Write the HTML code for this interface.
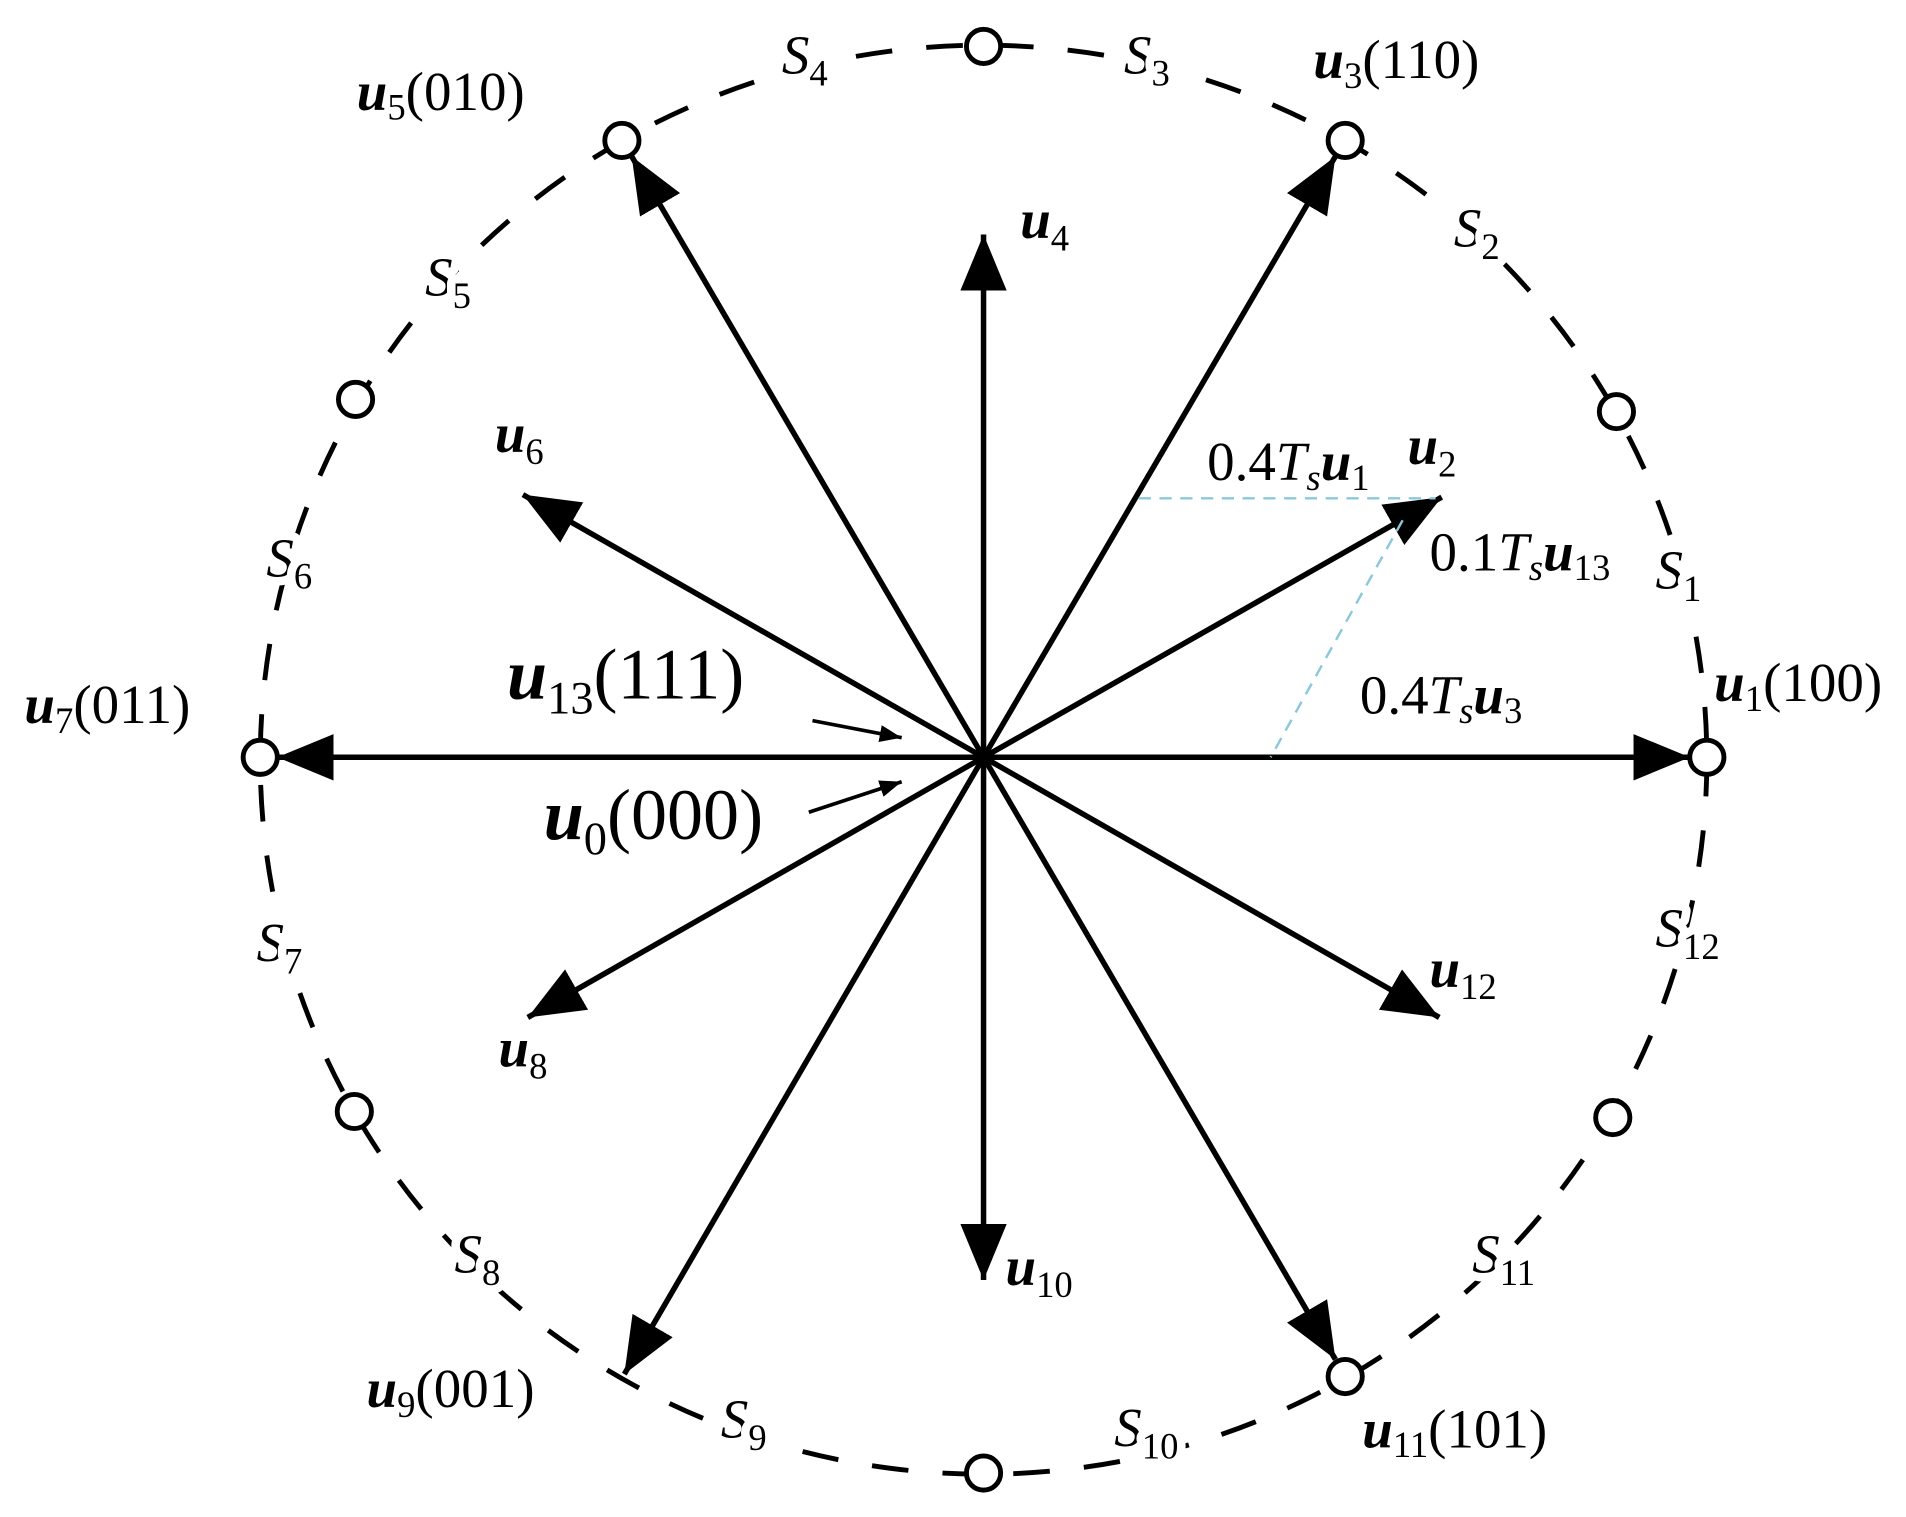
<!DOCTYPE html>
<html><head><meta charset="utf-8"><style>
html,body{margin:0;padding:0;background:#fff}
svg{display:block}
text{font-family:"Liberation Serif",serif;fill:#000}
.b{font-weight:bold;font-style:italic}
.i{font-style:italic}
.w{paint-order:stroke;stroke:#fff;stroke-width:14px;stroke-linejoin:round}
</style></head><body>
<svg width="1906" height="1517" viewBox="0 0 1560 1242" preserveAspectRatio="none" xmlns="http://www.w3.org/2000/svg">
<defs>
<marker id="a" markerUnits="userSpaceOnUse" markerWidth="48" markerHeight="40" refX="46" refY="19" orient="auto">
<path d="M0,0 L46,19 L0,38 z" fill="#000"/>
</marker>
<marker id="s" markerUnits="userSpaceOnUse" markerWidth="20" markerHeight="16" refX="18" refY="7" orient="auto">
<path d="M0,0 L18,7 L0,14 z" fill="#000"/>
</marker>
</defs>
<ellipse cx="805" cy="622" rx="592" ry="585" fill="none" stroke="#000" stroke-width="4" stroke-dasharray="30 28"/>
<g stroke="#000" stroke-width="4.5" marker-end="url(#a)">
<line x1="805" y1="620" x2="1383" y2="620"/>
<line x1="805" y1="620" x2="227" y2="620"/>
<line x1="805" y1="620" x2="1093" y2="128"/>
<line x1="805" y1="620" x2="517" y2="128"/>
<line x1="805" y1="620" x2="511" y2="1125"/>
<line x1="805" y1="620" x2="1093" y2="1113"/>
<line x1="805" y1="620" x2="805" y2="192"/>
<line x1="805" y1="620" x2="805" y2="1048"/>
<line x1="805" y1="620" x2="1180" y2="407"/>
<line x1="805" y1="620" x2="428" y2="405"/>
<line x1="805" y1="620" x2="432" y2="833"/>
<line x1="805" y1="620" x2="1178" y2="833"/>
</g>
<g stroke="#000" stroke-width="3" marker-end="url(#s)">
<line x1="665" y1="590" x2="738" y2="604"/>
<line x1="662" y1="665" x2="738" y2="640"/>
</g>
<g stroke="#8cc8dc" stroke-width="2" stroke-dasharray="10 7" fill="none">
<line x1="932" y1="408" x2="1175" y2="408"/>
<line x1="1148" y1="426" x2="1040" y2="620"/>
</g>
<g fill="#fff" stroke="#000" stroke-width="4">
<circle cx="1397" cy="620" r="14"/>
<circle cx="213" cy="620" r="14"/>
<circle cx="1101" cy="115" r="14"/>
<circle cx="509" cy="115" r="14"/>
<circle cx="805" cy="38" r="14"/>
<circle cx="805" cy="1206" r="14"/>
<circle cx="291" cy="327" r="14"/>
<circle cx="1323" cy="337" r="14"/>
<circle cx="290" cy="910" r="14"/>
<circle cx="1320" cy="915" r="14"/>
<circle cx="1101" cy="1127" r="14"/>
</g>
<g font-size="45">
<text x="292" y="90"><tspan class="b">u</tspan><tspan font-size="30" dy="8">5</tspan><tspan dy="-8">(010)</tspan></text>
<text x="1075" y="64"><tspan class="b">u</tspan><tspan font-size="30" dy="8">3</tspan><tspan dy="-8">(110)</tspan></text>
<text x="20" y="592"><tspan class="b">u</tspan><tspan font-size="30" dy="8">7</tspan><tspan dy="-8">(011)</tspan></text>
<text x="1403" y="574"><tspan class="b">u</tspan><tspan font-size="30" dy="8">1</tspan><tspan dy="-8">(100)</tspan></text>
<text x="300" y="1152"><tspan class="b">u</tspan><tspan font-size="30" dy="8">9</tspan><tspan dy="-8">(001)</tspan></text>
<text x="1115" y="1185"><tspan class="b">u</tspan><tspan font-size="30" dy="8">11</tspan><tspan dy="-8">(101)</tspan></text>
<text x="835" y="195"><tspan class="b">u</tspan><tspan font-size="30" dy="10">4</tspan></text>
<text x="405" y="370"><tspan class="b">u</tspan><tspan font-size="30" dy="10">6</tspan></text>
<text x="1152" y="380"><tspan class="b">u</tspan><tspan font-size="30" dy="10">2</tspan></text>
<text x="408" y="873"><tspan class="b">u</tspan><tspan font-size="30" dy="10">8</tspan></text>
<text x="1170" y="808"><tspan class="b">u</tspan><tspan font-size="30" dy="10">12</tspan></text>
<text x="823" y="1052"><tspan class="b">u</tspan><tspan font-size="30" dy="10">10</tspan></text>
<text x="988" y="393">0.4<tspan class="i">T</tspan><tspan class="i" font-size="30" dy="8">s</tspan><tspan class="b" dy="-8">u</tspan><tspan font-size="30" dy="8">1</tspan></text>
<text x="1170" y="467">0.1<tspan class="i">T</tspan><tspan class="i" font-size="30" dy="8">s</tspan><tspan class="b" dy="-8">u</tspan><tspan font-size="30" dy="8">13</tspan></text>
<text x="1113" y="584">0.4<tspan class="i">T</tspan><tspan class="i" font-size="30" dy="8">s</tspan><tspan class="b" dy="-8">u</tspan><tspan font-size="30" dy="8">3</tspan></text>
</g>
<g font-size="45" class="w">
<text x="640" y="60"><tspan class="i">S</tspan><tspan font-size="30" dy="10">4</tspan></text>
<text x="920" y="60"><tspan class="i">S</tspan><tspan font-size="30" dy="10">3</tspan></text>
<text x="1190" y="202"><tspan class="i">S</tspan><tspan font-size="30" dy="10">2</tspan></text>
<text x="348" y="242"><tspan class="i">S</tspan><tspan font-size="30" dy="10">5</tspan></text>
<text x="1355" y="482"><tspan class="i">S</tspan><tspan font-size="30" dy="10">1</tspan></text>
<text x="218" y="472"><tspan class="i">S</tspan><tspan font-size="30" dy="10">6</tspan></text>
<text x="210" y="787"><tspan class="i">S</tspan><tspan font-size="30" dy="10">7</tspan></text>
<text x="1355" y="775"><tspan class="i">S</tspan><tspan font-size="30" dy="10">12</tspan></text>
<text x="372" y="1042"><tspan class="i">S</tspan><tspan font-size="30" dy="10">8</tspan></text>
<text x="1205" y="1042"><tspan class="i">S</tspan><tspan font-size="30" dy="10">11</tspan></text>
<text x="590" y="1177"><tspan class="i">S</tspan><tspan font-size="30" dy="10">9</tspan></text>
<text x="912" y="1184"><tspan class="i">S</tspan><tspan font-size="30" dy="10">10</tspan></text>
</g>
<g font-size="59">
<text x="415" y="572"><tspan class="b">u</tspan><tspan font-size="38" dy="12">13</tspan><tspan dy="-12">(111)</tspan></text>
<text x="445" y="687"><tspan class="b">u</tspan><tspan font-size="38" dy="12">0</tspan><tspan dy="-12">(000)</tspan></text>
</g>
</svg>
</body></html>
